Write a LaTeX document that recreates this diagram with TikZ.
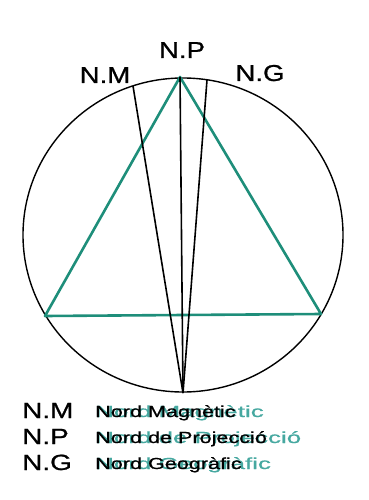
\documentclass[tikz,border=0pt]{standalone}
\usepackage{fontspec}
\setmainfont{Liberation Sans}
\usepackage{graphicx}
\usetikzlibrary{positioning}
\definecolor{nordteal}{RGB}{30,142,122}
\definecolor{paleteal}{RGB}{70,168,160}
\newcommand{\widetext}[2]{\scalebox{#1}[1]{#2}}

\begin{document}
\begin{tikzpicture}[x=1pt, y=-1pt,
  toplabel/.style={anchor=base, inner sep=0pt, font=\fontsize{23}{27}\selectfont\addfontfeature{FakeBold=0.8}},
  keylabel/.style={anchor=base west, inner sep=0pt, font=\fontsize{22}{26}\selectfont\addfontfeature{FakeBold=0.8}},
  keytext/.style={anchor=base west, inner sep=0pt, font=\fontsize{16}{19}\selectfont\addfontfeature{FakeBold=0.6}}]
  \useasboundingbox (0,0) rectangle (368,500);
  % circle
  \draw[line width=1.4pt] (183,235) ellipse (160pt and 157pt);
  % points on the circle
  \coordinate (np top) at (180,77);
  \coordinate (nm top) at (133,86);
  \coordinate (ng top) at (207,80);
  \coordinate (south) at (183,393);
  \coordinate (bl) at (45,316);
  \coordinate (br) at (321,314);
  % triangle
  \draw[nordteal, line width=2.6pt, line join=round] (np top) -- (bl) -- (br) -- cycle;
  % north lines
  \draw[line width=1.6pt] (south) -- (nm top);
  \draw[line width=1.6pt] (south) -- (np top);
  \draw[line width=1.6pt] (south) -- (ng top);
  % labels
  \node[toplabel] (np) at (182,58) {\widetext{1.2}{N.P}};
  \node[toplabel] (nm) at (105,83) {\widetext{1.2}{N.M}};
  \node[toplabel] (ng) at (260,81) {\widetext{1.2}{N.G}};
  % key
  \node[keylabel] (nm key) at (22,418) {\widetext{1.27}{N.M}};
  \node[keylabel] (np key) at (22,444) {\widetext{1.27}{N.P}};
  \node[keylabel] (ng key) at (22,470) {\widetext{1.27}{N.G}};
  \node[keytext, paleteal] (nm teal) at (95,417) {\widetext{1.62}{Nord Magnètic}};
  \node[keytext, paleteal] (np teal) at (95,443) {\widetext{1.62}{Nord de Projecció}};
  \node[keytext, paleteal] (ng teal) at (95,469) {\widetext{1.62}{Nord Geogràfic}};
  \node[keytext] (nm text) at (95,417) {\widetext{1.35}{Nord Magnètic}};
  \node[keytext] (np text) at (95,443) {\widetext{1.35}{Nord de Projecció}};
  \node[keytext] (ng text) at (95,469) {\widetext{1.35}{Nord Geogràfic}};
\end{tikzpicture}
\end{document}
